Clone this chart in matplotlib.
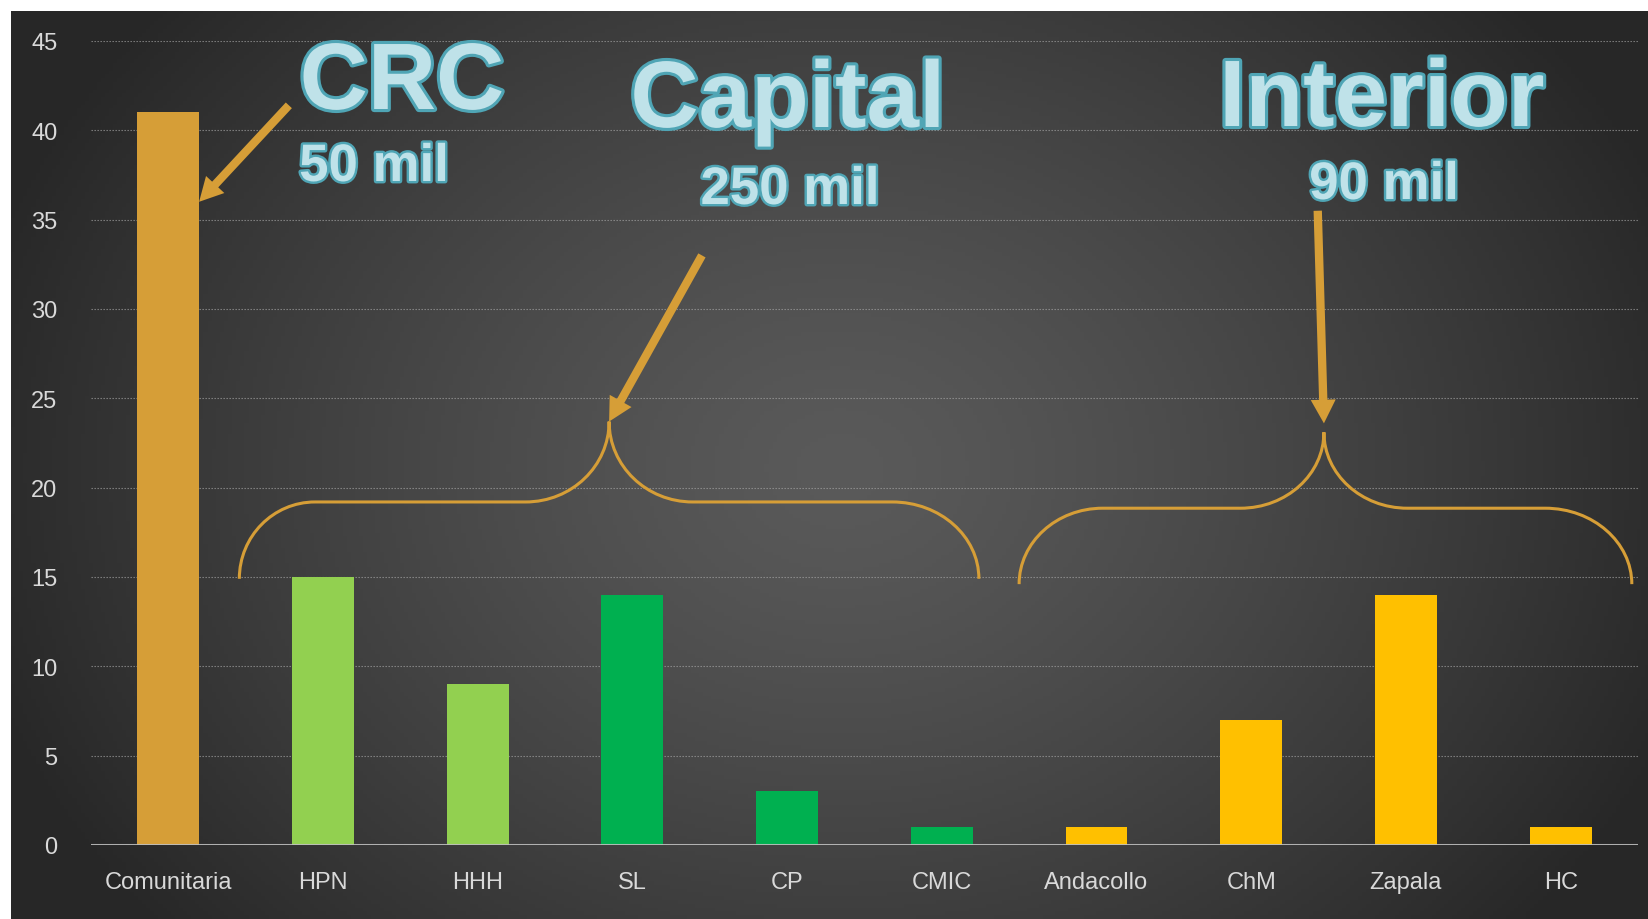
import numpy as np
import matplotlib
matplotlib.use("Agg")
import matplotlib.pyplot as plt
import matplotlib.patheffects as pe
from matplotlib.path import Path
from matplotlib.patches import PathPatch, FancyArrowPatch

# ---------------- data ----------------
categories = ["Comunitaria", "HPN", "HHH", "SL", "CP", "CMIC",
              "Andacollo", "ChM", "Zapala", "HC"]
values = [41, 15, 9, 14, 3, 1, 1, 7, 14, 1]
bar_colors = ["#D69E37", "#92D050", "#92D050", "#00B050", "#00B050", "#00B050",
              "#FFC000", "#FFC000", "#FFC000", "#FFC000"]
y_ticks = [0, 5, 10, 15, 20, 25, 30, 35, 40, 45]

titles = ["CRC", "Capital", "Interior"]
subtitles = ["50 mil", "250 mil", "90 mil"]

W, H = 1648, 920
fig = plt.figure(figsize=(W / 100, H / 100), dpi=100)
fig.patch.set_facecolor("white")

# ---------------- background panel (radial gradient) ----------------
px0, py0 = 10.5, 11.5
bg = fig.add_axes([px0 / W, 0, 1 - px0 / W, 1 - py0 / H])
bg.set_axis_off()
gx = np.linspace(px0, W, 400)
gy = np.linspace(py0, H, 240)
X, Y = np.meshgrid(gx, gy)
r = np.sqrt(((X - 840) / 900) ** 2 + ((Y - 470) / 720) ** 2)
r = np.clip(r, 0, 1)
c_center, c_edge = 0x5A / 255, 0x27 / 255
G = c_center + (c_edge - c_center) * r ** 1.3
img = np.dstack([G, G, G])
bg.imshow(img, aspect="auto", extent=[0, 1, 0, 1], origin="upper")
bg.set_xlim(0, 1); bg.set_ylim(0, 1)

# ---------------- main axes ----------------
left, right, bottom, top = 90.8, 1638, 846, 42
ax = fig.add_axes([left / W, 1 - bottom / H, (right - left) / W, (bottom - top) / H])
ax.set_facecolor("none")
x = np.arange(len(categories))
ax.bar(x, values, width=0.4, color=bar_colors, zorder=3)
ax.set_xlim(-0.5, len(categories) - 0.5)
ax.set_ylim(0, 45)
ax.set_yticks(y_ticks)
ax.set_yticklabels([str(t) for t in y_ticks])
ax.set_xticks(x)
ax.set_xticklabels(categories)
for s in ax.spines.values():
    s.set_visible(False)
ax.tick_params(axis="both", length=0, colors="#D9D9D9", labelsize=17)
ax.tick_params(axis="y", pad=24)
ax.tick_params(axis="x", pad=19)
for lbl in ax.get_xticklabels() + ax.get_yticklabels():
    lbl.set_family(["Liberation Sans", "DejaVu Sans"])
for t in y_ticks[1:]:
    ax.axhline(t, color="#A6A6A6", lw=0.8, ls=(0, (1.2, 1.5)), zorder=1, alpha=0.75)
ax.axhline(0, color="#BFBFBF", lw=2.2, zorder=4, alpha=0.9)

# ---------------- braces ----------------
k = 0.5523
brace_color = "#D69E37"


def brace(x0, xp, x1, yb, yf, yp, r0, rp, r1):
    verts = [(x0, yb),
             (x0, yb + k * (yf - yb)), (x0 + r0 * (1 - k), yf), (x0 + r0, yf),
             (xp - rp, yf),
             (xp - rp + k * rp, yf), (xp, yp - k * (yp - yf)), (xp, yp),
             (xp, yp - k * (yp - yf)), (xp + rp - k * rp, yf), (xp + rp, yf),
             (x1 - r1, yf),
             (x1 - r1 * (1 - k), yf), (x1, yb + k * (yf - yb)), (x1, yb)]
    codes = [Path.MOVETO,
             Path.CURVE4, Path.CURVE4, Path.CURVE4,
             Path.LINETO,
             Path.CURVE4, Path.CURVE4, Path.CURVE4,
             Path.CURVE4, Path.CURVE4, Path.CURVE4,
             Path.LINETO,
             Path.CURVE4, Path.CURVE4, Path.CURVE4]
    ax.add_patch(PathPatch(Path(verts, codes), fill=False, ec=brace_color,
                           lw=2.2, zorder=5, clip_on=False))


brace(0.46, 2.85, 5.24, 14.9, 19.2, 23.7, 0.49, 0.54, 0.56)
brace(5.50, 7.47, 9.46, 14.6, 18.85, 23.1, 0.54, 0.54, 0.56)

# ---------------- arrows ----------------
arrows = [((0.78, 41.4), (0.20, 36.0)),
          ((3.45, 33.0), (2.85, 23.7)),
          ((7.43, 35.5), (7.47, 23.6))]
for (xs, ys), (xt, yt) in arrows:
    a = FancyArrowPatch((xs, ys), (xt, yt),
                        arrowstyle="simple,tail_width=0.30,head_width=0.9,head_length=0.85",
                        mutation_scale=20, color=brace_color, lw=0,
                        shrinkA=0, shrinkB=0, zorder=6, clip_on=False)
    ax.add_patch(a)

# ---------------- titles ----------------
fill = "#BFE2E9"
edge = "#4FA5B5"
title_pos = [(402, 110), (788, 128), (1382, 127)]
sub_pos = [(374, 182), (790, 205), (1384, 200)]
for t, (tx, ty) in zip(titles, title_pos):
    fig.text(tx / W, 1 - ty / H, t, ha="center", va="baseline", fontsize=68,
             fontweight="bold", color=fill, family=["Liberation Sans", "DejaVu Sans"],
             path_effects=[pe.Stroke(linewidth=4.5, foreground=edge), pe.Normal()],
             zorder=10)
for t, (tx, ty) in zip(subtitles, sub_pos):
    fig.text(tx / W, 1 - ty / H, t, ha="center", va="baseline", fontsize=38,
             fontweight="bold", color=fill, family=["Liberation Sans", "DejaVu Sans"],
             path_effects=[pe.Stroke(linewidth=3.5, foreground=edge), pe.Normal()],
             zorder=10)

fig.savefig("out.png", dpi=100, facecolor=fig.get_facecolor())
